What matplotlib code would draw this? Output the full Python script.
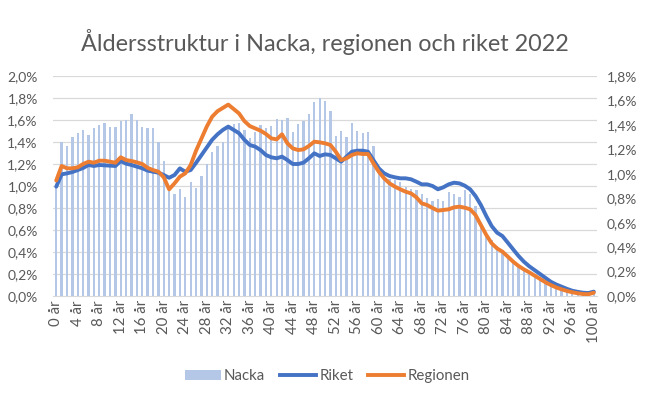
import numpy as np
import matplotlib.pyplot as plt
from matplotlib.patches import Patch
from matplotlib.lines import Line2D

plt.rcParams['font.family'] = ['Lato', 'DejaVu Sans']

# ages 0..100
ages = list(range(101))

# Nacka, share of population per age (right axis, %)
nacka = [0.88, 1.262, 1.230, 1.298, 1.336, 1.356, 1.317, 1.377, 1.399, 1.415,
         1.380, 1.380, 1.434, 1.440, 1.487, 1.440, 1.380, 1.372, 1.372, 1.262,
         1.107, 0.88, 0.835, 0.873, 0.807, 0.933, 0.881, 0.982, 1.080, 1.178,
         1.227, 1.262, 1.385, 1.405, 1.413, 1.36, 1.290, 1.344, 1.399, 1.377,
         1.393, 1.448, 1.440, 1.454, 1.339, 1.407, 1.434, 1.487, 1.590, 1.617,
         1.595, 1.514, 1.31, 1.35, 1.297, 1.418, 1.352, 1.334, 1.344, 1.231,
         1.05, 0.95, 0.96, 0.949, 0.93, 0.895, 0.875, 0.865, 0.835, 0.80,
         0.78, 0.791, 0.777, 0.848, 0.832, 0.813, 0.867, 0.835, 0.74, 0.60,
         0.52, 0.46, 0.41, 0.38, 0.33, 0.29, 0.25, 0.22, 0.19, 0.165,
         0.14, 0.11, 0.09, 0.07, 0.052, 0.04, 0.03, 0.02, 0.014, 0.01,
         0.02]

# Riket (left axis, %)
riket = [0.994, 1.106, 1.115, 1.127, 1.145, 1.164, 1.191, 1.182, 1.191, 1.188,
         1.185, 1.182, 1.227, 1.203, 1.191, 1.176, 1.161, 1.14, 1.13, 1.121,
         1.10, 1.075, 1.10, 1.16, 1.13, 1.145, 1.21, 1.28, 1.35, 1.42,
         1.47, 1.51, 1.54, 1.51, 1.48, 1.42, 1.373, 1.358, 1.327, 1.282,
         1.261, 1.252, 1.267, 1.236, 1.2, 1.2, 1.212, 1.252, 1.297, 1.273,
         1.288, 1.282, 1.252, 1.221, 1.267, 1.312, 1.321, 1.321, 1.312, 1.236,
         1.161, 1.115, 1.091, 1.079, 1.07, 1.07, 1.061, 1.039, 1.015, 1.015,
         1.0, 0.97, 0.988, 1.015, 1.03, 1.024, 1.003, 0.97, 0.909, 0.827,
         0.727, 0.636, 0.576, 0.545, 0.485, 0.424, 0.364, 0.312, 0.27, 0.235,
         0.2, 0.165, 0.13, 0.105, 0.085, 0.065, 0.048, 0.038, 0.03, 0.027,
         0.04]

# Regionen (left axis, %)
regionen = [1.05, 1.182, 1.161, 1.161, 1.170, 1.2, 1.221, 1.212, 1.23, 1.23,
            1.221, 1.212, 1.261, 1.236, 1.227, 1.215, 1.2, 1.165, 1.145, 1.13,
            1.079, 0.97, 1.024, 1.085, 1.115, 1.19, 1.32, 1.43, 1.54, 1.63,
            1.68, 1.71, 1.74, 1.70, 1.66, 1.59, 1.545, 1.524, 1.503, 1.473,
            1.433, 1.424, 1.47, 1.388, 1.342, 1.327, 1.333, 1.364, 1.403, 1.397,
            1.388, 1.373, 1.312, 1.236, 1.252, 1.282, 1.297, 1.291, 1.291, 1.206,
            1.13, 1.07, 1.024, 0.994, 0.97, 0.948, 0.933, 0.897, 0.842, 0.827,
            0.8, 0.776, 0.782, 0.788, 0.806, 0.812, 0.803, 0.788, 0.736, 0.645,
            0.555, 0.479, 0.433, 0.403, 0.358, 0.312, 0.273, 0.242, 0.215, 0.185,
            0.155, 0.125, 0.1, 0.078, 0.061, 0.046, 0.034, 0.025, 0.018, 0.016,
            0.03]

left_ticks = np.arange(0, 2.01, 0.2)
right_ticks = np.arange(0, 1.81, 0.2)
x_ticks = ages[::4]
x_labels = [f"{a} år" for a in x_ticks]

grey = '#595959'
bar_col = '#B4C7E7'
riket_col = '#4472C4'
region_col = '#ED7D31'


def pct(v):
    return f"{v:.1f}%".replace('.', ',')


fig = plt.figure(figsize=(6.57, 3.95), dpi=100)
ax_bar = fig.add_axes([0.0807, 0.2506, 0.828, 0.557])
ax_line = ax_bar.twinx()

# bars on the right scale (0-1,8 %)
ax_bar.bar(ages, nacka, width=0.42, color=bar_col, zorder=2)
ax_bar.set_ylim(0, 1.8)
ax_bar.set_xlim(-0.6, 100.6)

# gridlines follow the left scale
for v in left_ticks[1:]:
    ax_bar.axhline(v * 1.8 / 2.0, color='#D9D9D9', lw=0.9, zorder=0)

# lines on the left scale (0-2,0 %)
ax_line.plot(ages, riket, color=riket_col, lw=2.8, solid_capstyle='round')
ax_line.plot(ages, regionen, color=region_col, lw=2.8, solid_capstyle='round')
ax_line.set_ylim(0, 2.0)

ax_bar.yaxis.tick_right()
ax_line.yaxis.tick_left()
ax_bar.set_yticks(right_ticks)
ax_bar.set_yticklabels([pct(v) for v in right_ticks])
ax_line.set_yticks(left_ticks)
ax_line.set_yticklabels([pct(v) for v in left_ticks])

ax_bar.set_xticks(x_ticks)
ax_bar.set_xticklabels(x_labels, rotation=90)

for a in (ax_bar, ax_line):
    for s in a.spines.values():
        s.set_visible(False)
    a.tick_params(length=0, labelsize=10, labelcolor=grey)
ax_bar.spines['bottom'].set_visible(True)
ax_bar.spines['bottom'].set_color('#D9D9D9')
ax_bar.tick_params(axis='y', pad=7)
ax_line.tick_params(axis='y', pad=11)
ax_bar.tick_params(axis='x', pad=3, labelsize=10.8)

fig.text(0.495, 0.893, "Åldersstruktur i Nacka, regionen och riket 2022",
         ha='center', va='center', fontsize=16.8, color=grey)

handles = [Patch(facecolor=bar_col, edgecolor='none'),
           Line2D([0], [0], color=riket_col, lw=2.8),
           Line2D([0], [0], color=region_col, lw=2.8)]
leg = fig.legend(handles, ['Nacka', 'Riket', 'Regionen'], loc='center',
                 bbox_to_anchor=(0.498, 0.048), ncol=3, frameon=False,
                 fontsize=10.8, handlelength=2.4, handletextpad=0.2,
                 columnspacing=1.0)
for t in leg.get_texts():
    t.set_color(grey)

fig.savefig('out.png', dpi=100)
